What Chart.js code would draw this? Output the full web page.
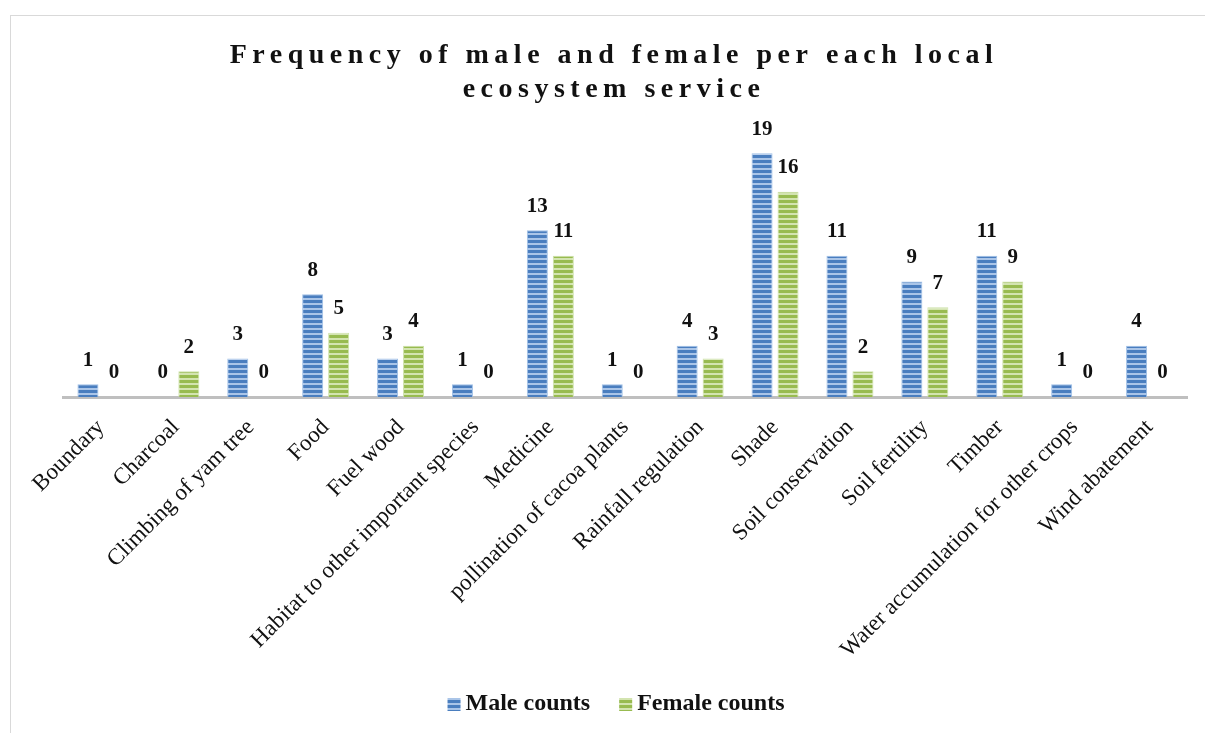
<!DOCTYPE html>
<html>
<head>
<meta charset="utf-8">
<script src="https://cdn.jsdelivr.net/npm/chart.js@4.4.1/dist/chart.umd.min.js"></script>
<style>
  html, body { margin: 0; padding: 0; background: #fff; }
  #wrap { position: relative; width: 1205px; height: 733px; overflow: hidden; background: #fff; }
  #frame { position: absolute; left: 10px; top: 15px; width: 1300px; height: 900px;
           border: 1.5px solid #d9d9d9; box-sizing: border-box; }
  canvas { position: absolute; left: 0; top: 0; }
</style>
</head>
<body>
<div id="wrap">
  <div id="frame"></div>
  <canvas id="chart" width="1205" height="733"></canvas>
</div>
<script>
// Ecosystem services named by respondents
const categories = [
  'Boundary', 'Charcoal', 'Climbing of yam tree', 'Food', 'Fuel wood',
  'Habitat to other important species', 'Medicine', 'pollination of cacoa plants',
  'Rainfall regulation', 'Shade', 'Soil conservation', 'Soil fertility', 'Timber',
  'Water accumulation for other crops', 'Wind abatement'
];
const maleCounts   = [1, 0, 3, 8, 3, 1, 13, 1, 4, 19, 11, 9, 11, 1, 4];
const femaleCounts = [0, 2, 0, 5, 4, 0, 11, 0, 3, 16, 2, 7, 9, 0, 0];
const seriesNames  = ['Male counts', 'Female counts'];
const titleLines   = ['Frequency of male and female per each local', 'ecosystem service'];
const yMax = 20;

const SERIF = '"Liberation Serif", "Times New Roman", serif';
const canvas = document.getElementById('chart');
const mainCtx = canvas.getContext('2d');

// Horizontal striped fill used for the bars and legend swatches
function stripes(dark, light, period, darkH) {
  const c = document.createElement('canvas');
  c.width = 4; c.height = period;
  const g = c.getContext('2d');
  g.fillStyle = light; g.fillRect(0, 0, 4, period);
  g.fillStyle = dark;  g.fillRect(0, 0, 4, darkH);
  return mainCtx.createPattern(c, 'repeat');
}
const maleFill   = stripes('#4a7ebf', '#aac5e8', 5, 3);
const femaleFill = stripes('#98bb50', '#d3e4b0', 5, 3);

// Two-line spaced title
const titlePlugin = {
  id: 'spacedTitle',
  afterDraw(chart) {
    const ctx = chart.ctx;
    ctx.save();
    ctx.font = 'bold 28px ' + SERIF;
    ctx.letterSpacing = '5.5px';
    ctx.fillStyle = '#111';
    ctx.textAlign = 'center';
    ctx.textBaseline = 'alphabetic';
    ctx.fillText(titleLines[0], 614, 63);
    ctx.fillText(titleLines[1], 614, 97);
    ctx.restore();
  }
};

// Value labels above each bar
const valueLabels = {
  id: 'valueLabels',
  afterDatasetsDraw(chart) {
    const ctx = chart.ctx;
    ctx.save();
    ctx.font = 'bold 21px ' + SERIF;
    ctx.fillStyle = '#111';
    ctx.textAlign = 'center';
    ctx.textBaseline = 'middle';
    chart.data.datasets.forEach((ds, i) => {
      chart.getDatasetMeta(i).data.forEach((bar, j) => {
        ctx.fillText(String(ds.data[j]), bar.x, bar.y - 24);
      });
    });
    ctx.restore();
  }
};

// Legend row under the axis labels
const legendRow = {
  id: 'legendRow',
  afterDraw(chart) {
    const ctx = chart.ctx;
    ctx.save();
    ctx.font = 'bold 24px ' + SERIF;
    const box = 13, gapText = 5, gapItem = 29;
    const items = chart.data.datasets.map(ds => ({ label: ds.label, fill: ds.backgroundColor, w: ctx.measureText(ds.label).width }));
    const total = items.reduce((s, it) => s + box + gapText + it.w, 0) + gapItem * (items.length - 1);
    let x = 616 - total / 2;
    const baseY = 710;
    items.forEach(it => {
      ctx.fillStyle = it.fill;
      ctx.fillRect(x, 698, box, box);
      x += box + gapText;
      ctx.fillStyle = '#111';
      ctx.textBaseline = 'alphabetic';
      ctx.textAlign = 'left';
      ctx.fillText(it.label, x, baseY);
      x += it.w + gapItem;
    });
    ctx.restore();
  }
};

new Chart(canvas, {
  type: 'bar',
  data: {
    labels: categories,
    datasets: [
      { label: seriesNames[0], data: maleCounts, backgroundColor: maleFill,
        borderColor: 'rgba(150,185,228,0.9)', borderWidth: c => (c.raw ? 1 : 0) },
      { label: seriesNames[1], data: femaleCounts, backgroundColor: femaleFill,
        borderColor: 'rgba(200,222,160,0.9)', borderWidth: c => (c.raw ? 1 : 0) }
    ]
  },
  options: {
    responsive: false,
    animation: false,
    devicePixelRatio: 1,
    categoryPercentage: 0.694,
    barPercentage: 0.808,
    layout: { padding: { top: 140.4, left: 63.5, right: 18, bottom: 50 } },
    plugins: {
      legend: { display: false },
      title: { display: false },
      tooltip: { enabled: false }
    },
    scales: {
      x: {
        grid: { display: false },
        border: { display: true, color: '#bfbfbf', width: 3 },
        ticks: {
          color: '#111',
          font: { family: SERIF, size: 23 },
          minRotation: 45, maxRotation: 45,
          autoSkip: false,
          padding: 9
        },
        afterFit(scale) { scale.height = 286; }
      },
      y: { display: false, min: 0, max: yMax }
    }
  },
  plugins: [titlePlugin, valueLabels, legendRow]
});
</script>
</body>
</html>
